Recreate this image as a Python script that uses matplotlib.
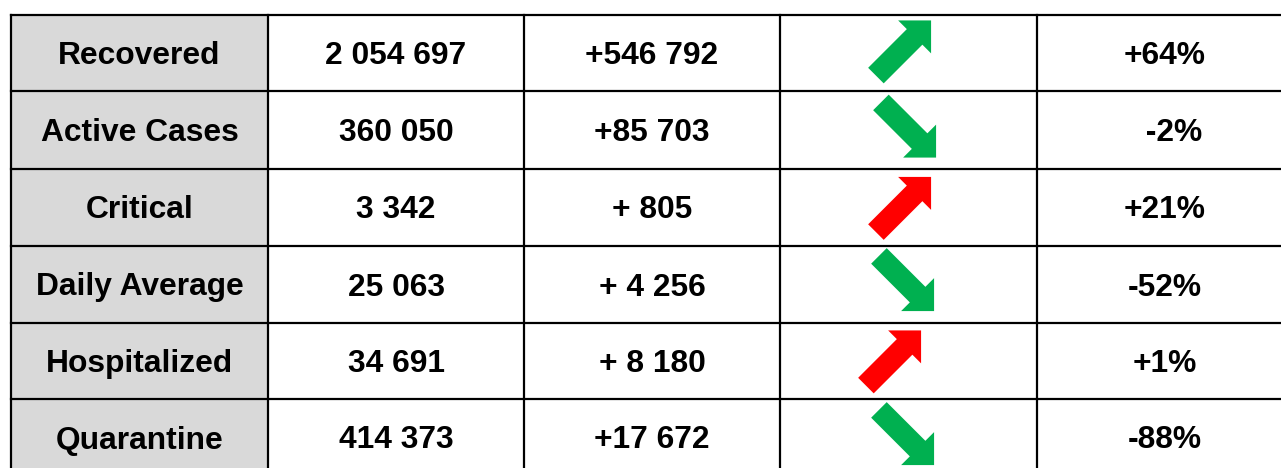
import numpy as np
import matplotlib
matplotlib.use("Agg")
import matplotlib.pyplot as plt
from matplotlib.patches import Polygon, Rectangle

# table content
labels = ["Recovered", "Active Cases", "Critical", "Daily Average", "Hospitalized", "Quarantine"]
totals = ["2 054 697", "360 050", "3 342", "25 063", "34 691", "414 373"]
changes = ["+546 792", "+85 703", "+ 805", "+ 4 256", "+ 8 180", "+17 672"]
trends = ["up", "down", "up", "down", "up", "down"]
trend_colors = ["#00B050", "#00B050", "#FF0000", "#00B050", "#FF0000", "#00B050"]
percents = ["+64%", "  -2%", "+21%", "-52%", "+1%", "-88%"]

# layout in pixels (image coords, y down)
W, H = 1281, 468
col_x = [11, 268, 524, 780, 1037, 1293]
row_y = [15, 91, 169, 246, 323, 399, 476]
arrow_shift = [(-5, -5), (0, 0), (-5, -3), (-2, -1), (-15, -3), (-2, 0)]
FONT = "Liberation Sans"
FS = 22.9


def arrow_shape(cx, cy, direction, length=78, shaft=11, head=23.3):
    half = length / 2
    neck = half - head
    pts = np.array([
        (-half, -shaft), (neck, -shaft), (neck, -head), (half, 0),
        (neck, head), (neck, shaft), (-half, shaft),
    ])
    a = np.deg2rad(-45 if direction == "up" else 45)
    rot = np.array([[np.cos(a), -np.sin(a)], [np.sin(a), np.cos(a)]])
    return pts @ rot.T + (cx, cy)


fig = plt.figure(figsize=(W / 100, H / 100), dpi=100)
ax = fig.add_axes([0, 0, 1, 1])
ax.set_xlim(0, W)
ax.set_ylim(H, 0)
ax.axis("off")

# grey label column
ax.add_patch(Rectangle((col_x[0], row_y[0]), col_x[1] - col_x[0], row_y[-1] - row_y[0],
                       facecolor="#D9D9D9", edgecolor="none", zorder=0))

for y in row_y:
    ax.plot([col_x[0], col_x[-1]], [y, y], color="black", lw=1.6, zorder=3, solid_capstyle="projecting")
for x in col_x:
    ax.plot([x, x], [row_y[0], row_y[-1]], color="black", lw=1.6, zorder=3, solid_capstyle="projecting")

cell_cx = [(col_x[i] + col_x[i + 1]) / 2 for i in range(5)]
for i in range(len(labels)):
    cy = (row_y[i] + row_y[i + 1]) / 2
    base = cy + 11
    for j, txt in zip([0, 1, 2, 4], [labels[i], totals[i], changes[i], percents[i]]):
        ax.text(cell_cx[j], base, txt, ha="center", va="baseline",
                fontsize=FS, fontweight="bold", family=FONT, color="black")
    dx, dy = arrow_shift[i]
    ax.add_patch(Polygon(arrow_shape(cell_cx[3] + dx, cy + dy, trends[i]),
                         closed=True, facecolor=trend_colors[i], edgecolor="none", zorder=2))

fig.savefig("out.png", dpi=100)
